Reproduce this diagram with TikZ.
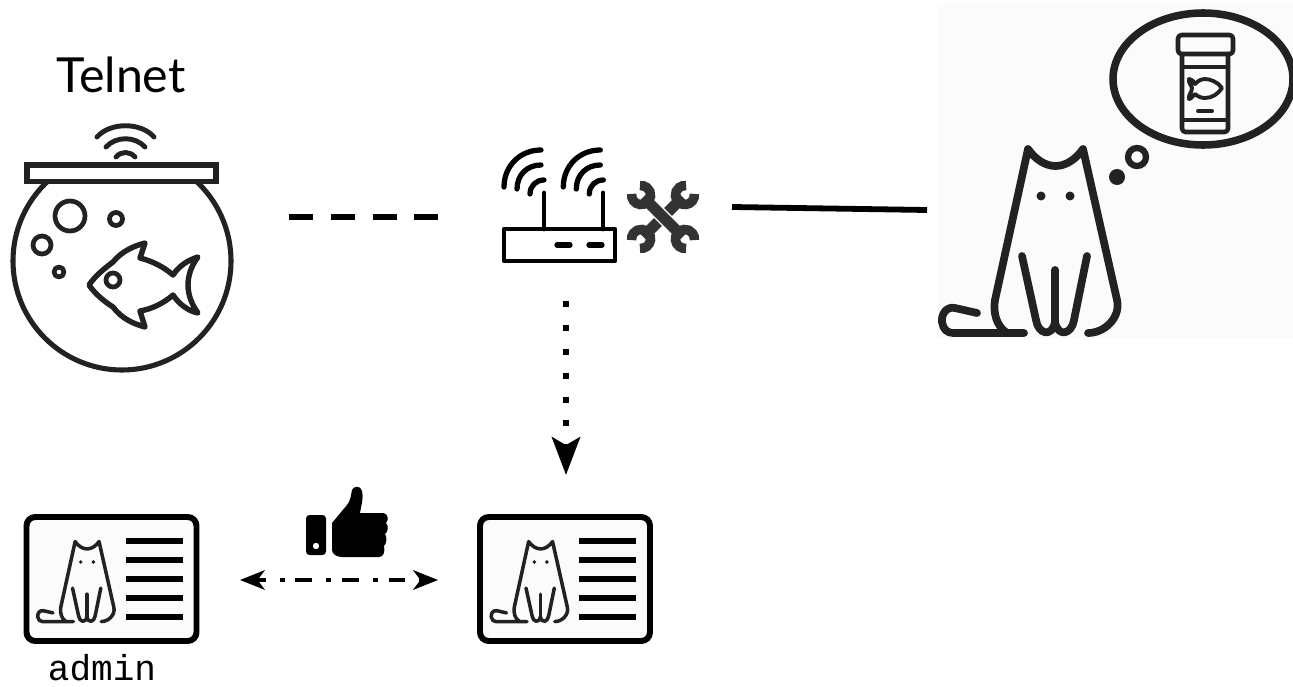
\documentclass[tikz,border=0pt]{standalone}
\usepackage{fontspec}
\setmainfont{Lato}
\setmonofont{Liberation Mono}
\usetikzlibrary{arrows.meta}
\definecolor{inkdark}{HTML}{222222}
\definecolor{wrenchgray}{HTML}{333333}
\definecolor{paperbg}{HTML}{FBFBFB}
\tikzset{
    pics/catfig/.style={code={
        \draw[inkdark, line width=#1, line cap=round, line join=round]
            (-23,91) .. controls (-34,84) and (-37,70) .. (-35,58) -- (-2,-93)
            .. controls (5,-83) and (15,-76) .. (25.5,-76)
            .. controls (36,-76) and (46,-83) .. (53,-93) -- (87,58)
            .. controls (91,75) and (75,91) .. (58,91);
        \draw[inkdark, line width=#1, line cap=round, line join=round]
            (-53,71) -- (-75,66) .. controls (-84,64) and (-89,73) .. (-88,80)
            .. controls (-87,87) and (-83,91) .. (-77,91) -- (-6,91);
        \draw[inkdark, line width=#1, line cap=round, line join=round]
            (-8,14) -- (6,78) .. controls (8,92) and (22,96) .. (25,80)
            .. controls (28,96) and (42,92) .. (44,78) -- (57,14);
        \draw[inkdark, line width=#1, line cap=round] (25,28) -- (25,80);
        \fill[inkdark] (11,-46) circle[radius=4.5] (40,-46) circle[radius=4.5];
    }},
    pics/idcard/.style={code={
        \draw[black, fill=paperbg, line width=3.4pt, rounded corners=5pt] (-85,-62) rectangle (85,62);
        \foreach \yb in {-38,-19,0,19,38} {
            \fill[black] (14,\yb-3) rectangle (71,\yb+3);
        }
        \pic[scale=.435] at (-35.5,3) {catfig=2pt};
    }},
    pics/wrenchfig/.style={code={
        \draw[wrenchgray, line width=6.4pt] (-28,0) -- (28,0);
        \draw[wrenchgray, line width=5.4pt] (31,0)+(38:9.5) arc[start angle=38, end angle=322, radius=9.5];
        \draw[wrenchgray, line width=5.4pt] (-31,0)+(142:9.5) arc[start angle=142, end angle=-142, radius=9.5];
    }},
    port/.style={inner sep=0pt, minimum size=0pt, outer sep=0pt},
    icon/.style={inkdark, line cap=round, line join=round},
    solidlink/.style={black, line width=3.3pt},
    dashlink/.style={black, line width=3.6pt, dash pattern=on 13.6pt off 10.2pt},
    dotlink/.style={black, line width=3.4pt, dash pattern=on 3.4pt off 10.2pt, -{Stealth[length=21.5pt, width=16pt, inset=4.5pt]}},
    trustlink/.style={black, line width=2.7pt, dash pattern=on 9.5pt off 8pt on 2.8pt off 6.2pt, dash phase=4pt,
        {Stealth[length=14pt, width=11pt, inset=4pt]}-{Stealth[length=14pt, width=11pt, inset=4pt]}}
}

\begin{document}
\begin{tikzpicture}[x=0.02cm, y=-0.02cm]
\useasboundingbox (0,0) rectangle (1293,686);

% Labels
\node[anchor=base, inner sep=0pt, font=\fontsize{27.5}{30}\selectfont] (telnet) at (121,92) {Telnet};
\node[anchor=base, inner sep=0pt, font=\fontsize{20.5}{22}\selectfont\ttfamily] (admin) at (102,680) {admin};

% Fish bowl
\begin{scope}
\clip (0,183) rectangle (260,400);
\draw[icon, line width=2.9pt] (122,261) circle[radius=109];
\end{scope}
\draw[icon, line width=3.1pt, line cap=butt, line join=miter] (27,165) rectangle (216,181.5);
\draw[icon, line width=2.8pt] (97,137) .. controls (110,122) and (141,122) .. (154,137);
\draw[icon, line width=2.8pt] (106,147) .. controls (116,136) and (135,136) .. (145,147);
\draw[icon, line width=2.8pt] (116,157) .. controls (121,151) and (130,151) .. (135,157);
\draw[icon, line width=2.7pt] (70,216) circle[radius=15];
\draw[icon, line width=2.7pt] (116,219) circle[radius=6.5];
\draw[icon, line width=2.7pt] (42,245) circle[radius=9];
\draw[icon, line width=2.7pt] (59,272) circle[radius=5];
\draw[icon, line width=2.7pt] (113,280) circle[radius=7];
\draw[icon, line width=3.1pt] (89,285) .. controls (95,276) and (105,268) .. (113,262)
    .. controls (122,251) and (134,246) .. (145,243) -- (140,258)
    .. controls (152,261) and (164,267) .. (173,275)
    .. controls (179,266) and (188,260) .. (198,257)
    .. controls (191,266) and (188,276) .. (188,285)
    .. controls (188,295) and (192,305) .. (198,313)
    .. controls (188,311) and (179,304) .. (173,295)
    .. controls (164,303) and (152,309) .. (140,311) -- (145,327)
    .. controls (134,324) and (122,319) .. (113,307)
    .. controls (105,302) and (95,294) .. (89,285) -- cycle;

% Router
\draw[black, line width=2.7pt, line join=round] (504,229) rectangle (615,261);
\draw[black, line width=2.7pt, line cap=round] (544,193) -- (544,229) (603,193) -- (603,229);
\draw[black, line width=3pt, line cap=round] (557,245) -- (570,245) (589,245) -- (602,245);
\foreach \xa in {0,59.3} {
    \draw[black, line width=3pt, line cap=round] (504+\xa,187) .. controls (504+\xa,166) and (520+\xa,150) .. (541+\xa,150);
    \draw[black, line width=3pt, line cap=round] (517+\xa,189) .. controls (517+\xa,175) and (527+\xa,165) .. (541+\xa,165);
    \draw[black, line width=3pt, line cap=round] (530+\xa,194) .. controls (530+\xa,186) and (536+\xa,180) .. (544+\xa,180);
}

% Wrenches
\pic[rotate=45] at (663,217) {wrenchfig};
\draw[white, line width=8pt] (655,209) -- (671,225);
\pic[rotate=-45] at (663,217) {wrenchfig};

% Cat with its thought
\fill[paperbg] (937,3) rectangle (1293,338);
\pic at (1030,242) {catfig=4.4pt};
\draw[inkdark, line width=4.3pt] (1203,79) ellipse[x radius=90, y radius=66];
\fill[inkdark] (1117,177) circle[radius=8];
\draw[inkdark, line width=3.6pt] (1137,157) circle[radius=9];
\draw[icon, line width=2.6pt, rounded corners=2pt] (1178,35) rectangle (1233,54);
\draw[icon, line width=2.6pt, rounded corners=2pt] (1182,54) -- (1182,132) -- (1228,132) -- (1228,54);
\draw[icon, line width=2.2pt] (1182,67) -- (1228,67) (1182,120) -- (1228,120);
\draw[icon, line width=2.2pt] (1198,111) -- (1212,111);
\draw[icon, line width=2.2pt] (1222,88) .. controls (1218,82) and (1210,79) .. (1205,79)
    .. controls (1200,79) and (1197,82) .. (1195,84) .. controls (1193,80) and (1190,79) .. (1189,79)
    .. controls (1188,83) and (1192,86) .. (1192,88) .. controls (1192,92) and (1188,95) .. (1189,99)
    .. controls (1191,99) and (1193,96) .. (1195,94) .. controls (1198,97) and (1202,98) .. (1205,98)
    .. controls (1212,98) and (1218,94) .. (1222,88) -- cycle;

% Credential cards
\pic at (111.5,579) {idcard};
\pic at (565,579) {idcard};

% Thumb
\fill[black, rounded corners=2pt, even odd rule] (306,515) rectangle (326,555) (316,546) circle[radius=3.3];
\fill[black] (332,523) -- (347,505) .. controls (351,500) and (351,494) .. (352,490)
    .. controls (353,486) and (361,485) .. (362,491) .. controls (364,498) and (361,506) .. (360,513)
    -- (383,513) .. controls (388,513) and (389,520) .. (386,523) .. controls (389,526) and (388,532) .. (385,534)
    .. controls (387,537) and (387,543) .. (384,546) .. controls (385,551) and (384,557) .. (379,557)
    -- (342,557) .. controls (337,557) and (332,554) .. (332,550) -- cycle;

% Ports
\node[port] (bowlport) at (289,217) {};
\node[port] (routerwest) at (440,217) {};
\node[port] (routereast) at (732,207) {};
\node[port] (catport) at (927,210) {};
\node[port] (routersouth) at (566,301) {};
\node[port] (cardtop) at (566,475) {};
\node[port] (cardleft) at (240,580) {};
\node[port] (cardright) at (438,580) {};

% Connectors
\draw[dashlink] (bowlport) -- (routerwest);
\draw[solidlink] (routereast) -- (catport);
\draw[dotlink] (routersouth) -- (cardtop);
\draw[trustlink] (cardleft) -- (cardright);

\end{tikzpicture}
\end{document}
